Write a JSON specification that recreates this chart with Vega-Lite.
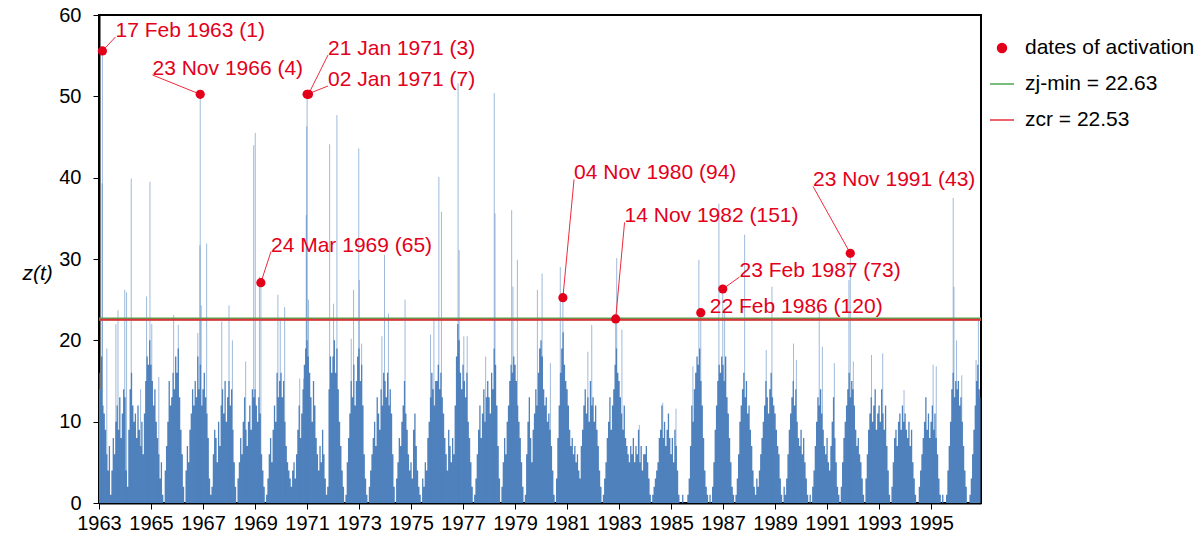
{
"$schema": "https://vega.github.io/schema/vega-lite/v6.json",
"width": 882, "height": 488,
"autosize": {"type": "none"},
"padding": {"left": 99, "top": 15, "right": 220, "bottom": 39},
"background": "white",
"config": {"view": {"stroke": "#000", "strokeWidth": 2}, "font": "Liberation Sans"},
"datasets": {
"series": [
{"t":1963,"z":16},{"t":1963.05,"z":14},{"t":1963.1,"z":18},{"t":1963.15,"z":12},{"t":1963.2,"z":11},{"t":1963.25,"z":9},{"t":1963.3,"z":6},{"t":1963.35,"z":4},{"t":1963.4,"z":7},{"t":1963.45,"z":1},{"t":1963.5,"z":4},{"t":1963.55,"z":8},{"t":1963.6,"z":6},{"t":1963.65,"z":10},{"t":1963.7,"z":12},{"t":1963.75,"z":9},{"t":1963.8,"z":13},{"t":1963.85,"z":8},{"t":1963.9,"z":11},{"t":1963.95,"z":14},
{"t":1964,"z":13},{"t":1964.05,"z":4},{"t":1964.1,"z":2},{"t":1964.15,"z":9},{"t":1964.2,"z":14},{"t":1964.25,"z":16},{"t":1964.3,"z":12},{"t":1964.35,"z":10},{"t":1964.4,"z":11},{"t":1964.45,"z":8},{"t":1964.5,"z":12},{"t":1964.55,"z":9},{"t":1964.6,"z":7},{"t":1964.65,"z":10},{"t":1964.7,"z":6},{"t":1964.75,"z":11},{"t":1964.8,"z":15},{"t":1964.85,"z":18},{"t":1964.9,"z":17},{"t":1964.95,"z":20},
{"t":1965,"z":17},{"t":1965.05,"z":15},{"t":1965.1,"z":12},{"t":1965.15,"z":14},{"t":1965.2,"z":10},{"t":1965.25,"z":8},{"t":1965.3,"z":6},{"t":1965.35,"z":3},{"t":1965.4,"z":5},{"t":1965.45,"z":1},{"t":1965.5,"z":0},{"t":1965.55,"z":4},{"t":1965.6,"z":7},{"t":1965.65,"z":10},{"t":1965.7,"z":15},{"t":1965.75,"z":12},{"t":1965.8,"z":13},{"t":1965.85,"z":16},{"t":1965.9,"z":14},{"t":1965.95,"z":18},
{"t":1966,"z":16},{"t":1966.05,"z":19},{"t":1966.1,"z":13},{"t":1966.15,"z":9},{"t":1966.2,"z":6},{"t":1966.25,"z":2},{"t":1966.3,"z":0},{"t":1966.35,"z":4},{"t":1966.4,"z":7},{"t":1966.45,"z":5},{"t":1966.5,"z":9},{"t":1966.55,"z":11},{"t":1966.6,"z":14},{"t":1966.65,"z":12},{"t":1966.7,"z":15},{"t":1966.75,"z":13},{"t":1966.8,"z":18},{"t":1966.85,"z":14},{"t":1966.9,"z":17},{"t":1966.95,"z":12},
{"t":1967,"z":14},{"t":1967.05,"z":16},{"t":1967.1,"z":13},{"t":1967.15,"z":11},{"t":1967.2,"z":8},{"t":1967.25,"z":3},{"t":1967.3,"z":1},{"t":1967.35,"z":2},{"t":1967.4,"z":6},{"t":1967.45,"z":9},{"t":1967.5,"z":8},{"t":1967.55,"z":5},{"t":1967.6,"z":10},{"t":1967.65,"z":7},{"t":1967.7,"z":12},{"t":1967.75,"z":14},{"t":1967.8,"z":11},{"t":1967.85,"z":15},{"t":1967.9,"z":10},{"t":1967.95,"z":13},
{"t":1968,"z":15},{"t":1968.05,"z":12},{"t":1968.1,"z":14},{"t":1968.15,"z":9},{"t":1968.2,"z":5},{"t":1968.25,"z":2},{"t":1968.3,"z":0},{"t":1968.35,"z":3},{"t":1968.4,"z":5},{"t":1968.45,"z":8},{"t":1968.5,"z":6},{"t":1968.55,"z":10},{"t":1968.6,"z":13},{"t":1968.65,"z":9},{"t":1968.7,"z":7},{"t":1968.75,"z":10},{"t":1968.8,"z":12},{"t":1968.85,"z":9},{"t":1968.9,"z":14},{"t":1968.95,"z":13},
{"t":1969,"z":14},{"t":1969.05,"z":12},{"t":1969.1,"z":10},{"t":1969.15,"z":13},{"t":1969.2,"z":11},{"t":1969.25,"z":6},{"t":1969.3,"z":4},{"t":1969.35,"z":2},{"t":1969.4,"z":0},{"t":1969.45,"z":1},{"t":1969.5,"z":3},{"t":1969.55,"z":6},{"t":1969.6,"z":8},{"t":1969.65,"z":5},{"t":1969.7,"z":9},{"t":1969.75,"z":12},{"t":1969.8,"z":10},{"t":1969.85,"z":16},{"t":1969.9,"z":13},{"t":1969.95,"z":15},
{"t":1970,"z":16},{"t":1970.05,"z":13},{"t":1970.1,"z":15},{"t":1970.15,"z":10},{"t":1970.2,"z":7},{"t":1970.25,"z":5},{"t":1970.3,"z":4},{"t":1970.35,"z":3},{"t":1970.4,"z":2},{"t":1970.45,"z":4},{"t":1970.5,"z":5},{"t":1970.55,"z":3},{"t":1970.6,"z":6},{"t":1970.65,"z":9},{"t":1970.7,"z":12},{"t":1970.75,"z":8},{"t":1970.8,"z":11},{"t":1970.85,"z":14},{"t":1970.9,"z":17},{"t":1970.95,"z":19},
{"t":1971,"z":20},{"t":1971.05,"z":18},{"t":1971.1,"z":16},{"t":1971.15,"z":13},{"t":1971.2,"z":10},{"t":1971.25,"z":15},{"t":1971.3,"z":12},{"t":1971.35,"z":8},{"t":1971.4,"z":6},{"t":1971.45,"z":4},{"t":1971.5,"z":7},{"t":1971.55,"z":5},{"t":1971.6,"z":9},{"t":1971.65,"z":6},{"t":1971.7,"z":3},{"t":1971.75,"z":1},{"t":1971.8,"z":2},{"t":1971.85,"z":14},{"t":1971.9,"z":18},{"t":1971.95,"z":16},
{"t":1972,"z":18},{"t":1972.05,"z":20},{"t":1972.1,"z":16},{"t":1972.15,"z":19},{"t":1972.2,"z":14},{"t":1972.25,"z":10},{"t":1972.3,"z":7},{"t":1972.35,"z":4},{"t":1972.4,"z":2},{"t":1972.45,"z":0},{"t":1972.5,"z":1},{"t":1972.55,"z":5},{"t":1972.6,"z":8},{"t":1972.65,"z":11},{"t":1972.7,"z":15},{"t":1972.75,"z":13},{"t":1972.8,"z":17},{"t":1972.85,"z":12},{"t":1972.9,"z":15},{"t":1972.95,"z":18},
{"t":1973,"z":19},{"t":1973.05,"z":15},{"t":1973.1,"z":17},{"t":1973.15,"z":12},{"t":1973.2,"z":6},{"t":1973.25,"z":3},{"t":1973.3,"z":1},{"t":1973.35,"z":0},{"t":1973.4,"z":2},{"t":1973.45,"z":4},{"t":1973.5,"z":6},{"t":1973.55,"z":8},{"t":1973.6,"z":10},{"t":1973.65,"z":7},{"t":1973.7,"z":13},{"t":1973.75,"z":11},{"t":1973.8,"z":9},{"t":1973.85,"z":14},{"t":1973.9,"z":12},{"t":1973.95,"z":16},
{"t":1974,"z":15},{"t":1974.05,"z":13},{"t":1974.1,"z":16},{"t":1974.15,"z":12},{"t":1974.2,"z":14},{"t":1974.25,"z":11},{"t":1974.3,"z":6},{"t":1974.35,"z":2},{"t":1974.4,"z":0},{"t":1974.45,"z":3},{"t":1974.5,"z":5},{"t":1974.55,"z":8},{"t":1974.6,"z":7},{"t":1974.65,"z":10},{"t":1974.7,"z":12},{"t":1974.75,"z":15},{"t":1974.8,"z":11},{"t":1974.85,"z":9},{"t":1974.9,"z":6},{"t":1974.95,"z":4},
{"t":1975,"z":5},{"t":1975.05,"z":3},{"t":1975.1,"z":9},{"t":1975.15,"z":11},{"t":1975.2,"z":7},{"t":1975.25,"z":4},{"t":1975.3,"z":2},{"t":1975.35,"z":1},{"t":1975.4,"z":0},{"t":1975.45,"z":3},{"t":1975.5,"z":2},{"t":1975.55,"z":5},{"t":1975.6,"z":4},{"t":1975.65,"z":8},{"t":1975.7,"z":10},{"t":1975.75,"z":13},{"t":1975.8,"z":16},{"t":1975.85,"z":14},{"t":1975.9,"z":12},{"t":1975.95,"z":15},
{"t":1976,"z":15},{"t":1976.05,"z":17},{"t":1976.1,"z":14},{"t":1976.15,"z":16},{"t":1976.2,"z":13},{"t":1976.25,"z":11},{"t":1976.3,"z":8},{"t":1976.35,"z":6},{"t":1976.4,"z":4},{"t":1976.45,"z":9},{"t":1976.5,"z":7},{"t":1976.55,"z":5},{"t":1976.6,"z":8},{"t":1976.65,"z":6},{"t":1976.7,"z":12},{"t":1976.75,"z":18},{"t":1976.8,"z":22},{"t":1976.85,"z":20},{"t":1976.9,"z":16},{"t":1976.95,"z":14},
{"t":1977,"z":17},{"t":1977.05,"z":15},{"t":1977.1,"z":13},{"t":1977.15,"z":16},{"t":1977.2,"z":10},{"t":1977.25,"z":8},{"t":1977.3,"z":5},{"t":1977.35,"z":2},{"t":1977.4,"z":0},{"t":1977.45,"z":1},{"t":1977.5,"z":3},{"t":1977.55,"z":6},{"t":1977.6,"z":9},{"t":1977.65,"z":12},{"t":1977.7,"z":8},{"t":1977.75,"z":11},{"t":1977.8,"z":14},{"t":1977.85,"z":10},{"t":1977.9,"z":13},{"t":1977.95,"z":15},
{"t":1978,"z":13},{"t":1978.05,"z":11},{"t":1978.1,"z":16},{"t":1978.15,"z":14},{"t":1978.2,"z":19},{"t":1978.25,"z":17},{"t":1978.3,"z":12},{"t":1978.35,"z":7},{"t":1978.4,"z":3},{"t":1978.45,"z":0},{"t":1978.5,"z":2},{"t":1978.55,"z":5},{"t":1978.6,"z":8},{"t":1978.65,"z":6},{"t":1978.7,"z":10},{"t":1978.75,"z":12},{"t":1978.8,"z":15},{"t":1978.85,"z":17},{"t":1978.9,"z":16},{"t":1978.95,"z":18},
{"t":1979,"z":17},{"t":1979.05,"z":15},{"t":1979.1,"z":12},{"t":1979.15,"z":10},{"t":1979.2,"z":8},{"t":1979.25,"z":5},{"t":1979.3,"z":2},{"t":1979.35,"z":0},{"t":1979.4,"z":1},{"t":1979.45,"z":6},{"t":1979.5,"z":10},{"t":1979.55,"z":13},{"t":1979.6,"z":8},{"t":1979.65,"z":5},{"t":1979.7,"z":9},{"t":1979.75,"z":11},{"t":1979.8,"z":14},{"t":1979.85,"z":12},{"t":1979.9,"z":16},{"t":1979.95,"z":19},
{"t":1980,"z":20},{"t":1980.05,"z":18},{"t":1980.1,"z":14},{"t":1980.15,"z":12},{"t":1980.2,"z":13},{"t":1980.25,"z":10},{"t":1980.3,"z":11},{"t":1980.35,"z":9},{"t":1980.4,"z":7},{"t":1980.45,"z":4},{"t":1980.5,"z":1},{"t":1980.55,"z":0},{"t":1980.6,"z":3},{"t":1980.65,"z":8},{"t":1980.7,"z":12},{"t":1980.75,"z":16},{"t":1980.8,"z":19},{"t":1980.85,"z":21},{"t":1980.9,"z":17},{"t":1980.95,"z":15},
{"t":1981,"z":14},{"t":1981.05,"z":12},{"t":1981.1,"z":9},{"t":1981.15,"z":7},{"t":1981.2,"z":8},{"t":1981.25,"z":6},{"t":1981.3,"z":7},{"t":1981.35,"z":5},{"t":1981.4,"z":6},{"t":1981.45,"z":4},{"t":1981.5,"z":3},{"t":1981.55,"z":7},{"t":1981.6,"z":9},{"t":1981.65,"z":12},{"t":1981.7,"z":14},{"t":1981.75,"z":11},{"t":1981.8,"z":13},{"t":1981.85,"z":10},{"t":1981.9,"z":15},{"t":1981.95,"z":12},
{"t":1982,"z":13},{"t":1982.05,"z":10},{"t":1982.1,"z":12},{"t":1982.15,"z":9},{"t":1982.2,"z":7},{"t":1982.25,"z":4},{"t":1982.3,"z":2},{"t":1982.35,"z":0},{"t":1982.4,"z":1},{"t":1982.45,"z":3},{"t":1982.5,"z":5},{"t":1982.55,"z":8},{"t":1982.6,"z":10},{"t":1982.65,"z":13},{"t":1982.7,"z":9},{"t":1982.75,"z":12},{"t":1982.8,"z":14},{"t":1982.85,"z":17},{"t":1982.9,"z":19},{"t":1982.95,"z":16},
{"t":1983,"z":15},{"t":1983.05,"z":13},{"t":1983.1,"z":11},{"t":1983.15,"z":9},{"t":1983.2,"z":12},{"t":1983.25,"z":8},{"t":1983.3,"z":7},{"t":1983.35,"z":6},{"t":1983.4,"z":5},{"t":1983.45,"z":7},{"t":1983.5,"z":6},{"t":1983.55,"z":8},{"t":1983.6,"z":5},{"t":1983.65,"z":7},{"t":1983.7,"z":6},{"t":1983.75,"z":9},{"t":1983.8,"z":5},{"t":1983.85,"z":7},{"t":1983.9,"z":4},{"t":1983.95,"z":6},
{"t":1984,"z":6},{"t":1984.05,"z":7},{"t":1984.1,"z":5},{"t":1984.15,"z":3},{"t":1984.2,"z":1},{"t":1984.25,"z":0},{"t":1984.3,"z":1},{"t":1984.35,"z":2},{"t":1984.4,"z":3},{"t":1984.45,"z":4},{"t":1984.5,"z":5},{"t":1984.55,"z":8},{"t":1984.6,"z":9},{"t":1984.65,"z":12},{"t":1984.7,"z":8},{"t":1984.75,"z":10},{"t":1984.8,"z":7},{"t":1984.85,"z":9},{"t":1984.9,"z":11},{"t":1984.95,"z":8},
{"t":1985,"z":6},{"t":1985.05,"z":8},{"t":1985.1,"z":5},{"t":1985.15,"z":9},{"t":1985.2,"z":7},{"t":1985.25,"z":4},{"t":1985.3,"z":1},{"t":1985.35,"z":0},{"t":1985.4,"z":0},{"t":1985.45,"z":1},{"t":1985.5,"z":0},{"t":1985.55,"z":0},{"t":1985.6,"z":0},{"t":1985.65,"z":1},{"t":1985.7,"z":3},{"t":1985.75,"z":7},{"t":1985.8,"z":12},{"t":1985.85,"z":10},{"t":1985.9,"z":14},{"t":1985.95,"z":16},
{"t":1986,"z":18},{"t":1986.05,"z":17},{"t":1986.1,"z":19},{"t":1986.15,"z":15},{"t":1986.2,"z":12},{"t":1986.25,"z":8},{"t":1986.3,"z":4},{"t":1986.35,"z":2},{"t":1986.4,"z":1},{"t":1986.45,"z":0},{"t":1986.5,"z":1},{"t":1986.55,"z":0},{"t":1986.6,"z":2},{"t":1986.65,"z":5},{"t":1986.7,"z":9},{"t":1986.75,"z":12},{"t":1986.8,"z":15},{"t":1986.85,"z":17},{"t":1986.9,"z":16},{"t":1986.95,"z":18},
{"t":1987,"z":17},{"t":1987.05,"z":15},{"t":1987.1,"z":18},{"t":1987.15,"z":13},{"t":1987.2,"z":11},{"t":1987.25,"z":8},{"t":1987.3,"z":5},{"t":1987.35,"z":2},{"t":1987.4,"z":1},{"t":1987.45,"z":0},{"t":1987.5,"z":1},{"t":1987.55,"z":3},{"t":1987.6,"z":6},{"t":1987.65,"z":10},{"t":1987.7,"z":12},{"t":1987.75,"z":14},{"t":1987.8,"z":16},{"t":1987.85,"z":13},{"t":1987.9,"z":15},{"t":1987.95,"z":11},
{"t":1988,"z":12},{"t":1988.05,"z":9},{"t":1988.1,"z":7},{"t":1988.15,"z":4},{"t":1988.2,"z":2},{"t":1988.25,"z":1},{"t":1988.3,"z":3},{"t":1988.35,"z":2},{"t":1988.4,"z":4},{"t":1988.45,"z":6},{"t":1988.5,"z":8},{"t":1988.55,"z":10},{"t":1988.6,"z":12},{"t":1988.65,"z":15},{"t":1988.7,"z":13},{"t":1988.75,"z":11},{"t":1988.8,"z":14},{"t":1988.85,"z":16},{"t":1988.9,"z":13},{"t":1988.95,"z":12},
{"t":1989,"z":11},{"t":1989.05,"z":9},{"t":1989.1,"z":7},{"t":1989.15,"z":6},{"t":1989.2,"z":3},{"t":1989.25,"z":1},{"t":1989.3,"z":0},{"t":1989.35,"z":2},{"t":1989.4,"z":1},{"t":1989.45,"z":3},{"t":1989.5,"z":6},{"t":1989.55,"z":9},{"t":1989.6,"z":11},{"t":1989.65,"z":13},{"t":1989.7,"z":15},{"t":1989.75,"z":12},{"t":1989.8,"z":14},{"t":1989.85,"z":10},{"t":1989.9,"z":8},{"t":1989.95,"z":7},
{"t":1990,"z":9},{"t":1990.05,"z":6},{"t":1990.1,"z":8},{"t":1990.15,"z":5},{"t":1990.2,"z":3},{"t":1990.25,"z":1},{"t":1990.3,"z":0},{"t":1990.35,"z":1},{"t":1990.4,"z":0},{"t":1990.45,"z":2},{"t":1990.5,"z":4},{"t":1990.55,"z":7},{"t":1990.6,"z":10},{"t":1990.65,"z":13},{"t":1990.7,"z":12},{"t":1990.75,"z":14},{"t":1990.8,"z":11},{"t":1990.85,"z":9},{"t":1990.9,"z":7},{"t":1990.95,"z":6},
{"t":1991,"z":8},{"t":1991.05,"z":5},{"t":1991.1,"z":4},{"t":1991.15,"z":7},{"t":1991.2,"z":10},{"t":1991.25,"z":13},{"t":1991.3,"z":8},{"t":1991.35,"z":5},{"t":1991.4,"z":2},{"t":1991.45,"z":1},{"t":1991.5,"z":0},{"t":1991.55,"z":2},{"t":1991.6,"z":5},{"t":1991.65,"z":8},{"t":1991.7,"z":10},{"t":1991.75,"z":12},{"t":1991.8,"z":14},{"t":1991.85,"z":16},{"t":1991.9,"z":13},{"t":1991.95,"z":15},
{"t":1992,"z":14},{"t":1992.05,"z":12},{"t":1992.1,"z":9},{"t":1992.15,"z":7},{"t":1992.2,"z":8},{"t":1992.25,"z":6},{"t":1992.3,"z":5},{"t":1992.35,"z":3},{"t":1992.4,"z":1},{"t":1992.45,"z":0},{"t":1992.5,"z":3},{"t":1992.55,"z":6},{"t":1992.6,"z":9},{"t":1992.65,"z":11},{"t":1992.7,"z":13},{"t":1992.75,"z":10},{"t":1992.8,"z":12},{"t":1992.85,"z":14},{"t":1992.9,"z":9},{"t":1992.95,"z":11},
{"t":1993,"z":12},{"t":1993.05,"z":10},{"t":1993.1,"z":14},{"t":1993.15,"z":11},{"t":1993.2,"z":9},{"t":1993.25,"z":12},{"t":1993.3,"z":7},{"t":1993.35,"z":4},{"t":1993.4,"z":1},{"t":1993.45,"z":0},{"t":1993.5,"z":2},{"t":1993.55,"z":5},{"t":1993.6,"z":8},{"t":1993.65,"z":9},{"t":1993.7,"z":7},{"t":1993.75,"z":10},{"t":1993.8,"z":11},{"t":1993.85,"z":9},{"t":1993.9,"z":12},{"t":1993.95,"z":10},
{"t":1994,"z":11},{"t":1994.05,"z":9},{"t":1994.1,"z":8},{"t":1994.15,"z":10},{"t":1994.2,"z":7},{"t":1994.25,"z":9},{"t":1994.3,"z":5},{"t":1994.35,"z":3},{"t":1994.4,"z":1},{"t":1994.45,"z":0},{"t":1994.5,"z":0},{"t":1994.55,"z":2},{"t":1994.6,"z":4},{"t":1994.65,"z":6},{"t":1994.7,"z":8},{"t":1994.75,"z":10},{"t":1994.8,"z":13},{"t":1994.85,"z":9},{"t":1994.9,"z":11},{"t":1994.95,"z":8},
{"t":1995,"z":10},{"t":1995.05,"z":12},{"t":1995.1,"z":9},{"t":1995.15,"z":11},{"t":1995.2,"z":8},{"t":1995.25,"z":6},{"t":1995.3,"z":3},{"t":1995.35,"z":1},{"t":1995.4,"z":0},{"t":1995.45,"z":1},{"t":1995.5,"z":0},{"t":1995.55,"z":0},{"t":1995.6,"z":1},{"t":1995.65,"z":4},{"t":1995.7,"z":7},{"t":1995.75,"z":10},{"t":1995.8,"z":14},{"t":1995.85,"z":16},{"t":1995.9,"z":13},{"t":1995.95,"z":15},
{"t":1996,"z":14},{"t":1996.05,"z":15},{"t":1996.1,"z":12},{"t":1996.15,"z":13},{"t":1996.2,"z":10},{"t":1996.25,"z":7},{"t":1996.3,"z":4},{"t":1996.35,"z":2},{"t":1996.4,"z":0},{"t":1996.45,"z":0},{"t":1996.5,"z":1},{"t":1996.55,"z":3},{"t":1996.6,"z":6},{"t":1996.65,"z":9},{"t":1996.7,"z":12},{"t":1996.75,"z":15},{"t":1996.8,"z":17},{"t":1996.85,"z":14},{"t":1996.9,"z":13}
],
"spikes": [
{"t":1963.12,"z":39.3},{"t":1963.13,"z":55.6},{"t":1963.3,"z":19},{"t":1963.65,"z":22},{"t":1963.73,"z":23.7},{"t":1963.99,"z":26.2},{"t":1964.06,"z":25.9},
{"t":1964.24,"z":39.9},{"t":1964.6,"z":14},{"t":1964.83,"z":25.4},{"t":1964.96,"z":39.5},{"t":1965.03,"z":22},
{"t":1965.3,"z":15.5},{"t":1965.87,"z":23.1},{"t":1966.05,"z":21.9},{"t":1966.8,"z":20.9},{"t":1966.88,"z":31.7},{"t":1966.893,"z":50.25},{"t":1966.93,"z":24.3},
{"t":1967.14,"z":31.9},{"t":1967.72,"z":22.3},{"t":1968,"z":24.3},{"t":1968.13,"z":20},{"t":1968.64,"z":17.4},
{"t":1968.95,"z":44},{"t":1969.01,"z":45.5},{"t":1969.17,"z":27.8},{"t":1969.225,"z":27.1},{"t":1969.88,"z":25.6},{"t":1969.97,"z":22.5},
{"t":1970.14,"z":24.1},{"t":1970.72,"z":15.3},{"t":1970.87,"z":15.3},{"t":1970.97,"z":35.4},{"t":1970.99,"z":46.3},{"t":1971.003,"z":50.25},{"t":1971.055,"z":25},
{"t":1971.87,"z":44.1},{"t":1972.02,"z":24.5},{"t":1972.15,"z":47.7},{"t":1972.7,"z":20.2},{"t":1972.79,"z":26.2},{"t":1972.99,"z":43.6},{"t":1973.01,"z":27.4},{"t":1973.1,"z":19.6},
{"t":1973.88,"z":20.5},{"t":1973.98,"z":30.5},{"t":1974.13,"z":23.3},{"t":1974.77,"z":25},
{"t":1975.75,"z":20.7},{"t":1975.88,"z":22.5},{"t":1976.07,"z":40.1},{"t":1976.17,"z":35.8},{"t":1976.81,"z":51.6},{"t":1976.85,"z":31.1},{"t":1977.03,"z":20.5},{"t":1977.16,"z":20.5},
{"t":1977.87,"z":18},{"t":1978.2,"z":50.4},{"t":1978.23,"z":35.6},{"t":1978.87,"z":36},{"t":1978.92,"z":26.6},{"t":1979.09,"z":29.9},{"t":1979.86,"z":26.2},
{"t":1980.04,"z":28.2},{"t":1980.36,"z":17.2},{"t":1980.74,"z":29},{"t":1980.84,"z":25.2},{"t":1981.8,"z":18.6},{"t":1981.95,"z":21.9},
{"t":1982.87,"z":22.6},{"t":1982.91,"z":30.1},{"t":1983.11,"z":21.3},{"t":1983.78,"z":9.6},{"t":1984.68,"z":12.3},{"t":1985.19,"z":11.6},
{"t":1985.84,"z":16.8},{"t":1986.07,"z":29.9},{"t":1986.143,"z":23.4},{"t":1986.84,"z":36.8},{"t":1986.99,"z":26.3},{"t":1987.06,"z":23.9},{"t":1987.83,"z":33},
{"t":1988.66,"z":18.8},{"t":1988.88,"z":26.6},{"t":1989.71,"z":19.6},{"t":1989.82,"z":17.6},{"t":1990.7,"z":23.7},{"t":1990.82,"z":19.2},{"t":1991.28,"z":17.2},
{"t":1991.84,"z":27.4},{"t":1991.893,"z":30.7},{"t":1992.01,"z":17.4},{"t":1992.71,"z":18.2},{"t":1993.14,"z":18.4},{"t":1993.96,"z":13.9},{"t":1995.08,"z":17},{"t":1995.2,"z":16.8},
{"t":1995.85,"z":37.5},{"t":1995.88,"z":26.6},{"t":1995.98,"z":20},{"t":1996.18,"z":15.7},{"t":1996.73,"z":17.6},{"t":1996.82,"z":22.5}
],
"thresholds": [
{"name":"zj-min = 22.63","z":22.63},
{"name":"zcr = 22.53","z":22.53}
],
"act": [
{"label":"17 Feb 1963 (1)","t":1963.13,"z":55.58,"lt":1963.635,"lz":57.3,"line":true},
{"label":"23 Nov 1966 (4)","t":1966.893,"z":50.25,"lt":1965.058,"lz":52.62,"line":true},
{"label":"21 Jan 1971 (3)","t":1971.055,"z":50.25,"lt":1971.808,"lz":55.08,"line":true},
{"label":"02 Jan 1971 (7)","t":1971.003,"z":50.25,"lt":1971.808,"lz":51.27,"line":true},
{"label":"24 Mar 1969 (65)","t":1969.225,"z":27.09,"lt":1969.615,"lz":30.92,"line":true},
{"label":"04 Nov 1980 (94)","t":1980.84,"z":25.24,"lt":1981.269,"lz":39.78,"line":true},
{"label":"14 Nov 1982 (151)","t":1982.87,"z":22.63,"lt":1983.212,"lz":34.49,"line":true},
{"label":"22 Feb 1986 (120)","t":1986.143,"z":23.4,"lt":1986.492,"lz":23.32,"line":false},
{"label":"23 Feb 1987 (73)","t":1986.99,"z":26.31,"lt":1987.635,"lz":27.79,"line":true},
{"label":"23 Nov 1991 (43)","t":1991.893,"z":30.7,"lt":1990.462,"lz":38.92,"line":true}
]
},
"layer": [
{
"data": {"name": "series"},
"mark": {"type": "area", "color": "#4f81bd", "interpolate": "step", "opacity": 1},
"encoding": {
"x": {"field": "t", "type": "quantitative",
"scale": {"domain": [1963, 1996.92], "nice": false, "zero": false},
"axis": {"values": [1963,1964,1965,1966,1967,1968,1969,1970,1971,1972,1973,1974,1975,1976,1977,1978,1979,1980,1981,1982,1983,1984,1985,1986,1987,1988,1989,1990,1991,1992,1993,1994,1995,1996],
"format": "d", "labelExpr": "datum.value % 2 == 1 ? datum.label : ''",
"labelFontSize": 20, "labelColor": "#000", "tickColor": "#000", "tickSize": 6, "tickWidth": 1,
"domainColor": "#000", "domainWidth": 2, "grid": false, "title": null, "labelPadding": 4,
"labelFlush": false, "labelOverlap": false}},
"y": {"field": "z", "type": "quantitative",
"scale": {"domain": [0, 60], "nice": false},
"axis": {"values": [0,10,20,30,40,50,60], "labelFontSize": 20, "labelColor": "#000",
"tickColor": "#000", "tickSize": 6, "tickWidth": 1, "domainColor": "#000", "domainWidth": 2,
"grid": false, "labelPadding": 12,
"title": "z(t)", "titleFontStyle": "italic", "titleFontWeight": "normal", "titleFontSize": 21,
"titleColor": "#000", "titleAngle": 0, "titleAlign": "left", "titleBaseline": "middle",
"titleX": -77, "titleY": 258}}
}
},
{
"data": {"name": "spikes"},
"mark": {"type": "rule", "color": "#4f81bd", "strokeWidth": 1, "opacity": 0.55},
"encoding": {
"x": {"field": "t", "type": "quantitative"},
"y": {"field": "z", "type": "quantitative"},
"y2": {"datum": 0}
}
},
{
"data": {"name": "thresholds"},
"mark": {"type": "rule"},
"encoding": {
"y": {"field": "z", "type": "quantitative"},
"strokeWidth": {"field": "name", "type": "nominal", "scale": {"domain": ["zj-min = 22.63", "zcr = 22.53"], "range": [3, 2]}, "legend": null},
"color": {"field": "name", "type": "nominal",
"scale": {"domain": ["dates of activation", "zj-min = 22.63", "zcr = 22.53"], "range": ["#e3001b", "#4ea64e", "#e4303e"]},
"legend": {"orient": "none", "legendX": 890, "legendY": 20, "title": null,
"labelFontSize": 21, "labelColor": "#000", "labelOffset": 10, "rowPadding": 13, "padding": 0,
"labelLimit": 0,
"encode": {"symbols": {"update": {
"shape": {"signal": "datum.value == 'dates of activation' ? 'circle' : 'stroke'"},
"size": {"signal": "datum.value == 'dates of activation' ? 80 : 576"},
"fill": {"signal": "datum.value == 'dates of activation' ? '#e3001b' : 'transparent'"},
"stroke": {"signal": "datum.value == 'dates of activation' ? 'transparent' : (datum.value == 'zcr = 22.53' ? '#e4303e' : '#4ea64e')"},
"strokeWidth": {"value": 1.5},
"opacity": {"value": 1}
}}}}}
}
},
{
"data": {"name": "act"},
"transform": [{"filter": "datum.line"}],
"mark": {"type": "rule", "color": "#ee2a3c", "strokeWidth": 1},
"encoding": {
"x": {"field": "t", "type": "quantitative"},
"y": {"field": "z", "type": "quantitative"},
"x2": {"field": "lt"},
"y2": {"field": "lz"}
}
},
{
"data": {"name": "act"},
"mark": {"type": "point", "filled": true, "size": 85, "opacity": 1},
"encoding": {
"x": {"field": "t", "type": "quantitative"},
"y": {"field": "z", "type": "quantitative"},
"color": {"datum": "dates of activation", "type": "nominal"}
}
},
{
"data": {"name": "act"},
"mark": {"type": "text", "align": "left", "baseline": "alphabetic", "fontSize": 21, "color": "#e3001b", "font": "Liberation Sans"},
"encoding": {
"x": {"field": "lt", "type": "quantitative"},
"y": {"field": "lz", "type": "quantitative"},
"text": {"field": "label"}
}
}
]
}
